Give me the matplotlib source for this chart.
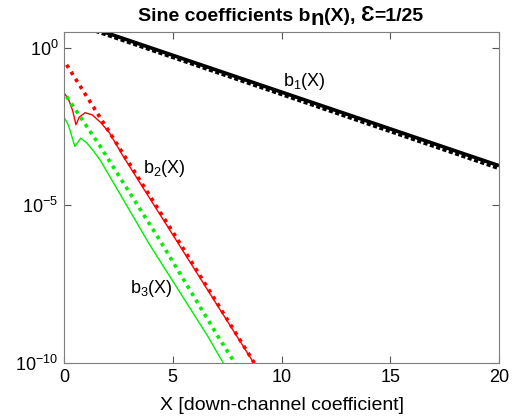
import numpy as np
import matplotlib
matplotlib.use("Agg")
import matplotlib.pyplot as plt

plt.rcParams['font.family'] = ['Liberation Sans', 'DejaVu Sans']
plt.rcParams['mathtext.fontset'] = 'custom'
plt.rcParams['mathtext.rm'] = 'Liberation Sans'
plt.rcParams['mathtext.it'] = 'Liberation Sans'
plt.rcParams['mathtext.bf'] = 'Liberation Sans:bold'

# ---- data (log10 of coefficients) ----
b1_x = [0.0, 20.0]
b1_log = [0.93, -3.74]
b1_asym_x = [0.0, 20.0]
b1_asym_log = [0.88, -3.82]

b2_x = [0.0, 0.2, 0.4, 0.55, 0.7, 0.97, 1.3, 1.7, 2.1, 2.7, 9.0]
b2_log = [-1.43, -1.62, -2.0, -2.44, -2.2, -2.06, -2.13, -2.38, -2.71, -3.42, -10.3]
b2_asym_x = [0.12, 5.33, 8.75, 9.0]
b2_asym_log = [-0.54, -6.2, -10.0, -10.28]

b3_x = [0.0, 0.2, 0.5, 0.77, 1.05, 1.35, 1.66, 3.94, 6.6, 7.32, 7.6]
b3_log = [-2.2, -2.45, -3.13, -2.87, -3.02, -3.27, -3.56, -6.25, -9.14, -10.0, -10.35]
b3_asym_x = [0.12, 1.62, 4.4, 7.09, 7.86, 8.1]
b3_asym_log = [-1.55, -3.08, -6.1, -9.17, -10.0, -10.26]

labels = ['b$_1$(X)', 'b$_2$(X)', 'b$_3$(X)']
label_x = [10.07, 3.64, 3.03]
label_log = [-1.21, -3.98, -7.77]

xticks = [0, 5, 10, 15, 20]
yticks = [1e0, 1e-5, 1e-10]

title_parts = ['Sine coefficients b', 'n', '(X), ', 'Ɛ', '=1/25']

fig = plt.figure(figsize=(5.26, 4.2), dpi=100)
ax = fig.add_axes([64/526, 1-363/420, (499-64)/526, (363-32)/420])

def p(v):
    return 10.0 ** np.asarray(v)

ax.plot(b1_x, p(b1_log), color='black', lw=2.6, solid_capstyle='butt')
ax.plot(b1_asym_x, p(b1_asym_log), color='black', lw=3.0, linestyle=(0, (1, 0.6)),
        dash_capstyle='butt')

ax.plot(b2_x, p(b2_log), color='#ff0000', lw=1.0)
ax.plot(b2_asym_x, p(b2_asym_log), color='#ff0000', lw=2.6, linestyle=(0, (1, 1.3)),
        dash_capstyle='butt')

ax.plot(b3_x, p(b3_log), color='#00ee00', lw=1.0)
ax.plot(b3_asym_x, p(b3_asym_log), color='#00ee00', lw=2.6, linestyle=(0, (1, 1.3)),
        dash_capstyle='butt')

for t, x, y in zip(labels, label_x, label_log):
    ax.text(x, 10 ** y, t, fontsize=13, ha='left', va='baseline')

ax.set_yscale('log')
ax.set_xlim(0, 20)
ax.set_ylim(1e-10, 10 ** 0.5)
ax.set_xticks(xticks)
ax.set_yticks(yticks)
ax.yaxis.set_minor_locator(matplotlib.ticker.NullLocator())
ax.tick_params(direction='in', top=True, right=True, length=5, width=0.8,
               color='#555555', labelsize=13, pad=4)
for s in ax.spines.values():
    s.set_color('#7f7f7f')
    s.set_linewidth(0.8)

ax.set_xlabel('X [down-channel coefficient]', fontsize=14, labelpad=8)

# title built from pieces so that the subscript n is large and lowered
fig.canvas.draw()
renderer = fig.canvas.get_renderer()
fs = 14
offsets = [0, -4, 0, 0, 0]
sizes = [fs, fs + 2, fs, fs + 1.5, fs]
texts = []
widths = []
for part, sz in zip(title_parts, sizes):
    t = fig.text(0, 0, part, fontsize=sz, fontweight='bold', ha='left', va='baseline')
    bb = t.get_window_extent(renderer)
    widths.append(bb.width)
    texts.append(t)
total = sum(widths)
xstart = 281 - total / 2
baseline = 420 - 21
cur = xstart
for t, w, off in zip(texts, widths, offsets):
    t.set_position((cur / 526, (baseline + off) / 420))
    cur += w

fig.savefig('out.png', dpi=100)
